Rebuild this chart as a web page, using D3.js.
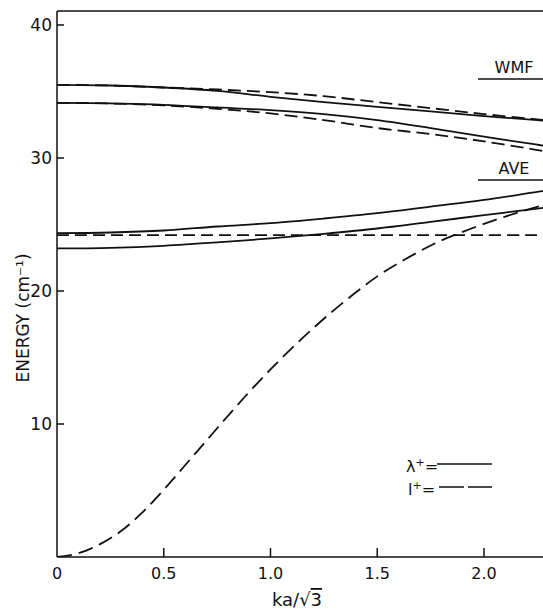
<!DOCTYPE html>
<html>
<head>
<meta charset="utf-8">
<script src="https://cdn.jsdelivr.net/npm/d3@7"></script>
<style>
    html, body { margin: 0; padding: 0; background: #fff; }
    svg { display: block; }
    text { font-family: "DejaVu Sans", sans-serif; fill: #111; }
</style>
</head>
<body>
<svg id="chart" width="543" height="612"></svg>
<script>
'use strict';

// ka/sqrt(3) sample points shared by the upper branches
var kaBranch = [0, 0.25, 0.5, 0.75, 1.0, 1.25, 1.5, 1.75, 2.0, 2.25, 2.3];

var wmfSolid  = [35.5, 35.45, 35.3, 35.05, 34.6, 34.2, 33.85, 33.5, 33.15, 32.85, 32.78];
var wmfDashed = [35.5, 35.45, 35.3, 35.15, 34.95, 34.65, 34.2, 33.75, 33.3, 32.9, 32.82];
var aveSolid  = [34.15, 34.1, 34.0, 33.8, 33.6, 33.3, 32.85, 32.25, 31.6, 31.0, 30.88];
var aveDashed = [34.15, 34.1, 33.95, 33.7, 33.35, 32.85, 32.25, 31.8, 31.25, 30.6, 30.45];
var lowSolidA = [24.35, 24.4, 24.55, 24.85, 25.1, 25.45, 25.85, 26.35, 26.85, 27.45, 27.55];
var lowSolidB = [23.2, 23.25, 23.4, 23.65, 23.95, 24.3, 24.7, 25.2, 25.7, 26.2, 26.3];
var flatDashed = [24.2, 24.2, 24.2, 24.2, 24.2, 24.2, 24.2, 24.2, 24.2, 24.2, 24.2];

// acoustic-like dashed branch rising from zero
var kaRise = [0, 0.1, 0.2, 0.3, 0.4, 0.5, 0.6, 0.7, 0.8, 0.9, 1.0, 1.1, 1.2, 1.3, 1.4, 1.5, 1.6, 1.7, 1.8, 1.9, 2.0, 2.1, 2.2, 2.3];
var riseDashed = [0, 0.28, 0.95, 1.95, 3.35, 5.05, 6.9, 8.75, 10.6, 12.4, 14.1, 15.7, 17.2, 18.6, 19.9, 21.1, 22.1, 23.0, 23.8, 24.45, 25.05, 25.6, 26.1, 26.55];

var xTicks = [0, 0.5, 1.0, 1.5, 2.0];
var xTickLabels = ["0", "0.5", "1.0", "1.5", "2.0"];
var yTicks = [10, 20, 30, 40];

(function drawChart() {
    var svg = d3.select("#chart");

    var plotLeft = 57, plotRight = 543, plotTop = 11, plotBottom = 557;

    var x = d3.scaleLinear().domain([0, 486 / 213.5]).range([plotLeft, plotRight]);
    // 40 sits at pixel 25, so the frame top is a little above 41
    var y = d3.scaleLinear()
        .domain([0, (plotBottom - plotTop) / ((plotBottom - 25) / 40)])
        .range([plotBottom, plotTop]);

    svg.append("defs").append("clipPath")
        .attr("id", "plotClip")
        .append("rect")
        .attr("x", plotLeft)
        .attr("y", plotTop)
        .attr("width", plotRight - plotLeft)
        .attr("height", plotBottom - plotTop);

    // frame: left axis, bottom axis, top border
    var frame = svg.append("g").attr("stroke", "#111").attr("stroke-width", 1.5).attr("fill", "none");
    frame.append("line").attr("x1", plotLeft).attr("x2", plotLeft).attr("y1", plotTop).attr("y2", plotBottom);
    frame.append("line").attr("x1", plotLeft).attr("x2", plotRight).attr("y1", plotBottom).attr("y2", plotBottom);
    frame.append("line").attr("x1", plotLeft).attr("x2", plotRight).attr("y1", plotTop).attr("y2", plotTop);

    // y ticks (inward) and labels
    var yAxis = svg.append("g");
    yAxis.selectAll("line.tick")
        .data(yTicks)
        .enter()
        .append("line")
        .attr("class", "tick")
        .attr("x1", plotLeft)
        .attr("x2", plotLeft + 7)
        .attr("y1", function (d) { return y(d); })
        .attr("y2", function (d) { return y(d); })
        .attr("stroke", "#111")
        .attr("stroke-width", 1.5);
    yAxis.selectAll("text")
        .data(yTicks)
        .enter()
        .append("text")
        .attr("x", plotLeft - 5)
        .attr("y", function (d) { return y(d) + 6; })
        .attr("text-anchor", "end")
        .attr("font-size", "17px")
        .text(function (d) { return d; });

    // x ticks (inward) and labels
    var xAxis = svg.append("g");
    xAxis.selectAll("line.tick")
        .data(xTicks.slice(1))
        .enter()
        .append("line")
        .attr("class", "tick")
        .attr("x1", function (d) { return x(d); })
        .attr("x2", function (d) { return x(d); })
        .attr("y1", plotBottom)
        .attr("y2", plotBottom - 9)
        .attr("stroke", "#111")
        .attr("stroke-width", 1.5);
    xAxis.selectAll("text")
        .data(xTicks)
        .enter()
        .append("text")
        .attr("x", function (d) { return x(d); })
        .attr("y", 579)
        .attr("text-anchor", "middle")
        .attr("font-size", "16px")
        .text(function (d, i) { return xTickLabels[i]; });

    // axis titles
    var xTitle = svg.append("text")
        .attr("x", 297)
        .attr("y", 606)
        .attr("text-anchor", "middle")
        .attr("font-size", "18px");
    xTitle.append("tspan").text("ka/√");
    xTitle.append("tspan").attr("text-decoration", "overline").text("3");

    svg.append("text")
        .attr("transform", "translate(29,318) rotate(-90)")
        .attr("text-anchor", "middle")
        .attr("font-size", "17px")
        .text("ENERGY (cm⁻¹)");

    // curves
    var plot = svg.append("g").attr("clip-path", "url(#plotClip)");

    function drawCurve(xs, ys, dash) {
        var line = d3.line()
            .x(function (d) { return x(d[0]); })
            .y(function (d) { return y(d[1]); })
            .curve(d3.curveCatmullRom);
        var pts = xs.map(function (v, i) { return [v, ys[i]]; });
        plot.append("path")
            .attr("d", line(pts))
            .attr("fill", "none")
            .attr("stroke", "#111")
            .attr("stroke-width", 1.8)
            .attr("stroke-dasharray", dash);
    }

    drawCurve(kaBranch, wmfSolid, null);
    drawCurve(kaBranch, wmfDashed, "13,6");
    drawCurve(kaBranch, aveSolid, null);
    drawCurve(kaBranch, aveDashed, "13,6");
    drawCurve(kaBranch, lowSolidA, null);
    drawCurve(kaBranch, lowSolidB, null);
    drawCurve(kaBranch, flatDashed, "12,6");
    drawCurve(kaRise, riseDashed, "15,7");

    // model labels on the right
    function modelLabel(text, baseline) {
        svg.append("text")
            .attr("x", 514)
            .attr("y", baseline)
            .attr("text-anchor", "middle")
            .attr("font-size", "16px")
            .text(text);
        svg.append("line")
            .attr("x1", 478).attr("x2", plotRight)
            .attr("y1", baseline + 6).attr("y2", baseline + 6)
            .attr("stroke", "#111")
            .attr("stroke-width", 1.3);
    }
    modelLabel("WMF", 73);
    modelLabel("AVE", 174);

    // legend
    var legend = svg.append("g");
    legend.append("text")
        .attr("x", 406).attr("y", 472)
        .attr("font-size", "16px")
        .html("λ<tspan dy='-6' font-size='11px'>+</tspan><tspan dy='6'>=</tspan>");
    legend.append("line")
        .attr("x1", 437).attr("x2", 492)
        .attr("y1", 464).attr("y2", 464)
        .attr("stroke", "#111").attr("stroke-width", 1.5);
    legend.append("text")
        .attr("x", 408).attr("y", 495)
        .attr("font-size", "16px")
        .html("l<tspan dy='-6' font-size='11px'>+</tspan><tspan dy='6'>=</tspan>");
    legend.append("line")
        .attr("x1", 439).attr("x2", 492)
        .attr("y1", 487).attr("y2", 487)
        .attr("stroke", "#111").attr("stroke-width", 1.5)
        .attr("stroke-dasharray", "25,4");
})();
</script>
</body>
</html>
